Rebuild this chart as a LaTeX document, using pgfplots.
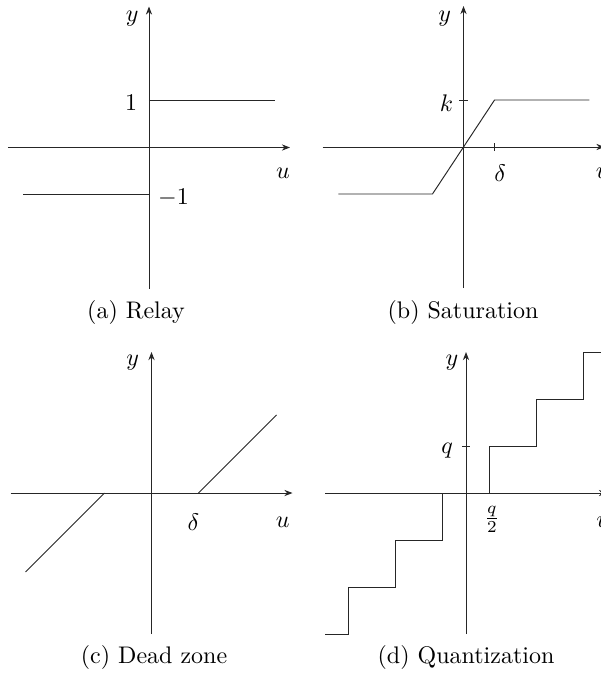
\documentclass[border=0pt]{standalone}
\usepackage{pgfplots}
\pgfplotsset{compat=1.18}
\usetikzlibrary{arrows.meta}

% common look of the four nonlinearity sketches: one unit = 19.583pt
\pgfplotsset{
  nonlin/.style={
    x=19.583pt, y=19.583pt,
    xmin=-3, xmax=3, ymin=-3, ymax=3,
    axis lines=middle,
    axis line style={line width=0.4pt, black!85, -{Stealth[length=3.4pt,width=2.6pt]}},
    xtick=\empty, ytick=\empty,
    anchor=origin,
    clip=false,
    tick align=center,
    major tick length=3.4pt,
    tick style={line width=0.4pt, black!85},
  },
  curve/.style={black!85, line width=0.4pt, no marks},
}

\begin{document}
\begin{tikzpicture}

% (a) relay
\begin{axis}[nonlin, at={(62.08pt,-61.46pt)}]
  \addplot[curve] coordinates {(-2.68,-1) (0,-1)};
  \addplot[curve] coordinates {(0,1) (2.68,1)};
  \node at (axis cs:-0.36,2.75) {$y$};
  \node at (axis cs:-0.38,0.95) {$1$};
  \node at (axis cs:0.52,-1.07) {$-1$};
  \node at (axis cs:2.85,-0.55) {$u$};
\end{axis}

% (b) saturation
\begin{axis}[nonlin, at={(193.13pt,-61.25pt)},
    xtick={0.66}, xticklabels={}, ytick={1}, yticklabels={}]
  \addplot[curve] coordinates {(-2.66,-1) (-0.66,-1) (0.66,1) (2.68,1)};
  \node at (axis cs:-0.40,2.74) {$y$};
  \node at (axis cs:-0.36,0.94) {$k$};
  \node at (axis cs:0.78,-0.55) {$\delta$};
  \node at (axis cs:2.96,-0.55) {$u$};
\end{axis}

% (c) dead zone
\begin{axis}[nonlin, at={(63.13pt,-205.42pt)}]
  \addplot[curve] coordinates {(-2.68,-1.68) (-1,0)};
  \addplot[curve] coordinates {(1,0) (2.66,1.66)};
  \node at (axis cs:-0.40,2.77) {$y$};
  \node at (axis cs:0.89,-0.62) {$\delta$};
  \node at (axis cs:2.79,-0.62) {$u$};
\end{axis}

% (d) quantization
\begin{axis}[nonlin, at={(194.17pt,-205.42pt)},
    ytick={1}, yticklabels={}]
  \addplot[curve] coordinates {(-3,-3) (-2.5,-3) (-2.5,-2) (-1.5,-2)
                               (-1.5,-1) (-0.5,-1) (-0.5,0)};
  \addplot[curve] coordinates {(0.5,0) (0.5,1) (1.5,1) (1.5,2)
                               (2.5,2) (2.5,3) (3.3,3)};
  \node at (axis cs:-0.30,2.77) {$y$};
  \node at (axis cs:-0.40,0.91) {$q$};
  \node at (axis cs:0.55,-0.57) {$\frac{q}{2}$};
  \node at (axis cs:2.92,-0.62) {$u$};
\end{axis}

% captions
\node at (56.67pt,-130pt) {(a) Relay};
\node at (192.92pt,-130pt) {(b) Saturation};
\node at (64.17pt,-273.75pt) {(c) Dead zone};
\node at (194.17pt,-273.75pt) {(d) Quantization};

\pgfresetboundingbox
\path[use as bounding box] (0pt,0pt) rectangle (250pt,-281.25pt);
\end{tikzpicture}
\end{document}
